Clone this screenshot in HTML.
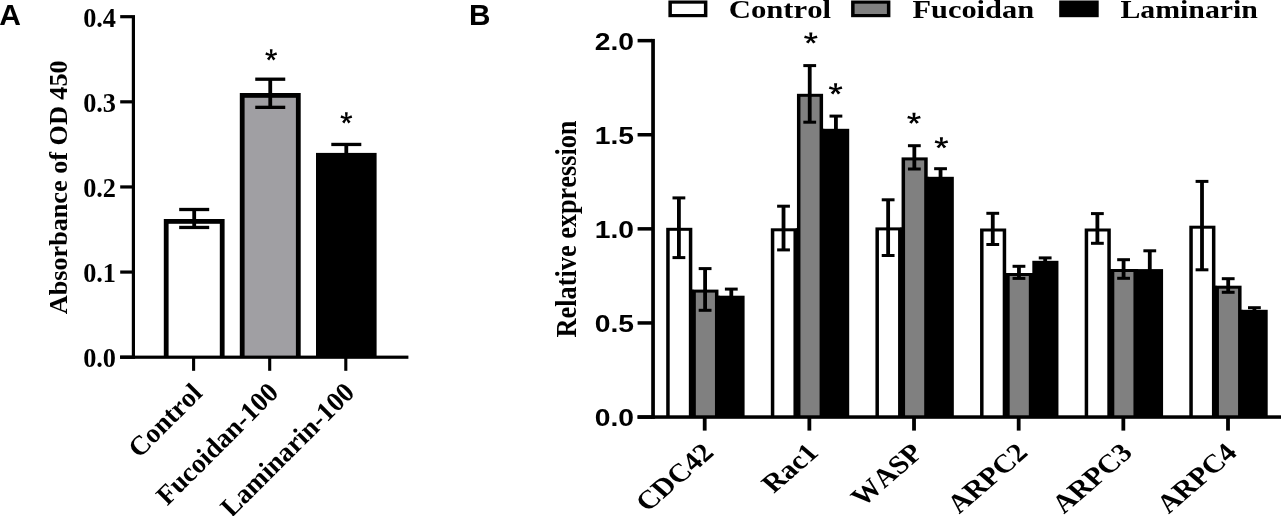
<!DOCTYPE html>
<html><head><meta charset="utf-8"><title>Figure</title>
<style>html,body{margin:0;padding:0;background:#fff;overflow:hidden}svg{display:block;will-change:transform}text{font-kerning:none}.se{font-family:"Liberation Serif",serif;font-weight:bold}.sa{font-family:"Liberation Sans",sans-serif;font-weight:bold}</style></head><body>
<svg width="1281" height="516" viewBox="0 0 1281 516">
<rect x="0" y="0" width="1281" height="516" fill="#ffffff"/>
<!-- Panel A -->
<rect x="163.80" y="219.00" width="60.80" height="138.20" fill="#000"/>
<rect x="168.60" y="223.80" width="51.20" height="133.40" fill="#fff"/>
<rect x="239.80" y="93.00" width="60.90" height="264.20" fill="#000"/>
<rect x="244.60" y="97.80" width="51.30" height="259.40" fill="#a09fa3"/>
<rect x="316.00" y="152.90" width="60.60" height="204.30" fill="#000"/>
<rect x="192.30" y="209.50" width="3.80" height="17.95" fill="#000"/>
<rect x="179.20" y="207.85" width="30.00" height="3.30" fill="#000"/>
<rect x="179.20" y="225.80" width="30.00" height="3.30" fill="#000"/>
<rect x="268.35" y="79.20" width="3.80" height="28.15" fill="#000"/>
<rect x="255.25" y="77.55" width="30.00" height="3.30" fill="#000"/>
<rect x="255.25" y="105.70" width="30.00" height="3.30" fill="#000"/>
<rect x="344.40" y="144.45" width="3.80" height="9.45" fill="#000"/>
<rect x="331.30" y="142.80" width="30.00" height="3.30" fill="#000"/>
<rect x="131.80" y="15.10" width="3.20" height="343.70" fill="#000"/>
<rect x="120.00" y="355.60" width="288.40" height="3.20" fill="#000"/>
<rect x="120.20" y="15.10" width="11.80" height="3.20" fill="#000"/>
<rect x="120.20" y="100.23" width="11.80" height="3.20" fill="#000"/>
<rect x="120.20" y="185.35" width="11.80" height="3.20" fill="#000"/>
<rect x="120.20" y="270.47" width="11.80" height="3.20" fill="#000"/>
<rect x="120.20" y="355.60" width="11.80" height="3.20" fill="#000"/>
<rect x="192.05" y="357.00" width="3.10" height="13.80" fill="#000"/>
<rect x="268.15" y="357.00" width="3.10" height="13.80" fill="#000"/>
<rect x="344.25" y="357.00" width="3.10" height="13.80" fill="#000"/>
<text class="se" x="116" y="26.60" font-size="26.3" text-anchor="end">0.4</text>
<text class="se" x="116" y="111.73" font-size="26.3" text-anchor="end">0.3</text>
<text class="se" x="116" y="196.85" font-size="26.3" text-anchor="end">0.2</text>
<text class="se" x="116" y="281.97" font-size="26.3" text-anchor="end">0.1</text>
<text class="se" x="116" y="367.10" font-size="26.3" text-anchor="end">0.0</text>
<text class="se" font-size="26.2" text-anchor="middle" transform="translate(67.2,187.3) rotate(-90)">Absorbance of OD 450</text>
<text class="se" font-size="27.3" text-anchor="end" transform="translate(203.50,394.60) rotate(-45)">Control</text>
<text class="se" font-size="27.3" text-anchor="end" transform="translate(279.90,393.80) rotate(-45)">Fucoidan-100</text>
<text class="se" font-size="27.3" text-anchor="end" transform="translate(356.00,393.80) rotate(-45)">Laminarin-100</text>
<path d="M272.00,55.60 L272.55,49.30 L269.85,49.30 L270.40,55.60Z M271.16,56.15 L277.09,54.81 L276.25,52.24 L270.67,54.63Z M271.73,54.63 L266.15,52.24 L265.31,54.81 L271.24,56.15Z M270.38,55.53 L273.25,60.42 L275.44,58.83 L271.67,54.59Z M270.73,54.59 L266.96,58.83 L269.15,60.42 L272.02,55.53Z" fill="#000"/>
<path d="M347.15,118.60 L347.70,112.30 L345.00,112.30 L345.55,118.60Z M346.31,119.15 L352.24,117.81 L351.40,115.24 L345.82,117.63Z M346.88,117.63 L341.30,115.24 L340.46,117.81 L346.39,119.15Z M345.53,118.53 L348.40,123.42 L350.59,121.83 L346.82,117.59Z M345.88,117.59 L342.11,121.83 L344.30,123.42 L347.17,118.53Z" fill="#000"/>
<text class="sa" font-size="30" x="-0.7" y="24.9">A</text>
<!-- Panel B -->
<rect x="666.20" y="227.80" width="26.13" height="189.25" fill="#000"/>
<rect x="669.70" y="230.80" width="19.13" height="186.25" fill="#fff"/>
<rect x="692.33" y="289.60" width="26.13" height="127.45" fill="#000"/>
<rect x="695.83" y="292.60" width="19.13" height="124.45" fill="#808080"/>
<rect x="691.13" y="289.60" width="2.40" height="127.45" fill="#000"/>
<rect x="718.46" y="295.70" width="26.13" height="121.35" fill="#000"/>
<rect x="717.26" y="295.70" width="2.40" height="121.35" fill="#000"/>
<rect x="677.00" y="197.90" width="3.80" height="59.70" fill="#000"/>
<rect x="672.50" y="196.40" width="12.80" height="3.00" fill="#000"/>
<rect x="672.50" y="256.10" width="12.80" height="3.00" fill="#000"/>
<rect x="703.20" y="268.60" width="3.80" height="41.70" fill="#000"/>
<rect x="698.70" y="267.10" width="12.80" height="3.00" fill="#000"/>
<rect x="698.70" y="308.80" width="12.80" height="3.00" fill="#000"/>
<rect x="729.40" y="289.10" width="3.80" height="7.60" fill="#000"/>
<rect x="724.90" y="287.60" width="12.80" height="3.00" fill="#000"/>
<rect x="770.82" y="228.30" width="26.13" height="188.75" fill="#000"/>
<rect x="774.32" y="231.30" width="19.13" height="185.75" fill="#fff"/>
<rect x="796.95" y="93.80" width="26.13" height="323.25" fill="#000"/>
<rect x="800.45" y="96.80" width="19.13" height="320.25" fill="#808080"/>
<rect x="795.75" y="228.30" width="2.40" height="188.75" fill="#000"/>
<rect x="823.08" y="128.80" width="26.13" height="288.25" fill="#000"/>
<rect x="821.88" y="128.80" width="2.40" height="288.25" fill="#000"/>
<rect x="781.62" y="206.20" width="3.80" height="43.70" fill="#000"/>
<rect x="777.12" y="204.70" width="12.80" height="3.00" fill="#000"/>
<rect x="777.12" y="248.40" width="12.80" height="3.00" fill="#000"/>
<rect x="807.82" y="65.60" width="3.80" height="56.60" fill="#000"/>
<rect x="803.32" y="64.10" width="12.80" height="3.00" fill="#000"/>
<rect x="803.32" y="120.70" width="12.80" height="3.00" fill="#000"/>
<rect x="834.02" y="116.10" width="3.80" height="13.70" fill="#000"/>
<rect x="829.52" y="114.60" width="12.80" height="3.00" fill="#000"/>
<rect x="875.44" y="227.40" width="26.13" height="189.65" fill="#000"/>
<rect x="878.94" y="230.40" width="19.13" height="186.65" fill="#fff"/>
<rect x="901.57" y="157.40" width="26.13" height="259.65" fill="#000"/>
<rect x="905.07" y="160.40" width="19.13" height="256.65" fill="#808080"/>
<rect x="900.37" y="227.40" width="2.40" height="189.65" fill="#000"/>
<rect x="927.70" y="176.80" width="26.13" height="240.25" fill="#000"/>
<rect x="926.50" y="176.80" width="2.40" height="240.25" fill="#000"/>
<rect x="886.24" y="199.80" width="3.80" height="55.70" fill="#000"/>
<rect x="881.74" y="198.30" width="12.80" height="3.00" fill="#000"/>
<rect x="881.74" y="254.00" width="12.80" height="3.00" fill="#000"/>
<rect x="912.44" y="145.70" width="3.80" height="23.30" fill="#000"/>
<rect x="907.94" y="144.20" width="12.80" height="3.00" fill="#000"/>
<rect x="907.94" y="167.50" width="12.80" height="3.00" fill="#000"/>
<rect x="938.64" y="168.70" width="3.80" height="9.10" fill="#000"/>
<rect x="934.14" y="167.20" width="12.80" height="3.00" fill="#000"/>
<rect x="980.06" y="228.50" width="26.13" height="188.55" fill="#000"/>
<rect x="983.56" y="231.50" width="19.13" height="185.55" fill="#fff"/>
<rect x="1006.19" y="273.00" width="26.13" height="144.05" fill="#000"/>
<rect x="1009.69" y="276.00" width="19.13" height="141.05" fill="#808080"/>
<rect x="1004.99" y="273.00" width="2.40" height="144.05" fill="#000"/>
<rect x="1032.32" y="260.80" width="26.13" height="156.25" fill="#000"/>
<rect x="1031.12" y="273.00" width="2.40" height="144.05" fill="#000"/>
<rect x="990.86" y="213.30" width="3.80" height="31.20" fill="#000"/>
<rect x="986.36" y="211.80" width="12.80" height="3.00" fill="#000"/>
<rect x="986.36" y="243.00" width="12.80" height="3.00" fill="#000"/>
<rect x="1017.06" y="266.30" width="3.80" height="12.10" fill="#000"/>
<rect x="1012.56" y="264.80" width="12.80" height="3.00" fill="#000"/>
<rect x="1012.56" y="276.90" width="12.80" height="3.00" fill="#000"/>
<rect x="1043.26" y="257.90" width="3.80" height="3.90" fill="#000"/>
<rect x="1038.76" y="256.40" width="12.80" height="3.00" fill="#000"/>
<rect x="1084.68" y="228.50" width="26.13" height="188.55" fill="#000"/>
<rect x="1088.18" y="231.50" width="19.13" height="185.55" fill="#fff"/>
<rect x="1110.81" y="269.00" width="26.13" height="148.05" fill="#000"/>
<rect x="1114.31" y="272.00" width="19.13" height="145.05" fill="#808080"/>
<rect x="1109.61" y="269.00" width="2.40" height="148.05" fill="#000"/>
<rect x="1136.94" y="269.10" width="26.13" height="147.95" fill="#000"/>
<rect x="1135.74" y="269.10" width="2.40" height="147.95" fill="#000"/>
<rect x="1095.48" y="213.60" width="3.80" height="29.70" fill="#000"/>
<rect x="1090.98" y="212.10" width="12.80" height="3.00" fill="#000"/>
<rect x="1090.98" y="241.80" width="12.80" height="3.00" fill="#000"/>
<rect x="1121.68" y="259.70" width="3.80" height="18.60" fill="#000"/>
<rect x="1117.18" y="258.20" width="12.80" height="3.00" fill="#000"/>
<rect x="1117.18" y="276.80" width="12.80" height="3.00" fill="#000"/>
<rect x="1147.88" y="250.80" width="3.80" height="19.30" fill="#000"/>
<rect x="1143.38" y="249.30" width="12.80" height="3.00" fill="#000"/>
<rect x="1189.30" y="225.70" width="26.13" height="191.35" fill="#000"/>
<rect x="1192.80" y="228.70" width="19.13" height="188.35" fill="#fff"/>
<rect x="1215.43" y="285.70" width="26.13" height="131.35" fill="#000"/>
<rect x="1218.93" y="288.70" width="19.13" height="128.35" fill="#808080"/>
<rect x="1214.23" y="285.70" width="2.40" height="131.35" fill="#000"/>
<rect x="1241.56" y="309.80" width="26.13" height="107.25" fill="#000"/>
<rect x="1240.36" y="309.80" width="2.40" height="107.25" fill="#000"/>
<rect x="1200.10" y="181.40" width="3.80" height="88.40" fill="#000"/>
<rect x="1195.60" y="179.90" width="12.80" height="3.00" fill="#000"/>
<rect x="1195.60" y="268.30" width="12.80" height="3.00" fill="#000"/>
<rect x="1226.30" y="278.70" width="3.80" height="13.60" fill="#000"/>
<rect x="1221.80" y="277.20" width="12.80" height="3.00" fill="#000"/>
<rect x="1221.80" y="290.80" width="12.80" height="3.00" fill="#000"/>
<rect x="1252.50" y="307.70" width="3.80" height="3.10" fill="#000"/>
<rect x="1248.00" y="306.20" width="12.80" height="3.00" fill="#000"/>
<rect x="651.20" y="38.90" width="3.70" height="379.90" fill="#000"/>
<rect x="637.60" y="415.30" width="643.40" height="3.50" fill="#000"/>
<rect x="637.60" y="38.90" width="14.40" height="3.50" fill="#000"/>
<rect x="637.60" y="133.00" width="14.40" height="3.50" fill="#000"/>
<rect x="637.60" y="227.10" width="14.40" height="3.50" fill="#000"/>
<rect x="637.60" y="321.20" width="14.40" height="3.50" fill="#000"/>
<rect x="637.60" y="415.30" width="14.40" height="3.50" fill="#000"/>
<rect x="702.80" y="417.00" width="3.80" height="13.60" fill="#000"/>
<rect x="807.46" y="417.00" width="3.80" height="13.60" fill="#000"/>
<rect x="912.12" y="417.00" width="3.80" height="13.60" fill="#000"/>
<rect x="1016.78" y="417.00" width="3.80" height="13.60" fill="#000"/>
<rect x="1121.44" y="417.00" width="3.80" height="13.60" fill="#000"/>
<rect x="1226.10" y="417.00" width="3.80" height="13.60" fill="#000"/>
<text class="sa" font-size="24.5" text-anchor="end" transform="translate(634,49.85) scale(1.155,1)">2.0</text>
<text class="sa" font-size="24.5" text-anchor="end" transform="translate(634,143.95) scale(1.155,1)">1.5</text>
<text class="sa" font-size="24.5" text-anchor="end" transform="translate(634,238.05) scale(1.155,1)">1.0</text>
<text class="sa" font-size="24.5" text-anchor="end" transform="translate(634,332.15) scale(1.155,1)">0.5</text>
<text class="sa" font-size="24.5" text-anchor="end" transform="translate(634,426.25) scale(1.155,1)">0.0</text>
<text class="se" font-size="26.3" text-anchor="middle" transform="translate(576.1,228.95) scale(1.155,1) rotate(-90)">Relative expression</text>
<text class="se" font-size="26.1" text-anchor="end" transform="translate(715.20,454.1) scale(1.155,1) rotate(-45)">CDC42</text>
<text class="se" font-size="26.1" text-anchor="end" transform="translate(819.86,454.1) scale(1.155,1) rotate(-45)">Rac1</text>
<text class="se" font-size="26.1" text-anchor="end" transform="translate(924.52,454.1) scale(1.155,1) rotate(-45)">WASP</text>
<text class="se" font-size="26.1" text-anchor="end" transform="translate(1029.18,454.1) scale(1.155,1) rotate(-45)">ARPC2</text>
<text class="se" font-size="26.1" text-anchor="end" transform="translate(1133.84,454.1) scale(1.155,1) rotate(-45)">ARPC3</text>
<text class="se" font-size="26.1" text-anchor="end" transform="translate(1238.50,454.1) scale(1.155,1) rotate(-45)">ARPC4</text>
<path d="M811.72,38.80 L812.36,32.50 L809.24,32.50 L809.88,38.80Z M810.76,39.35 L817.60,38.01 L816.63,35.44 L810.18,37.83Z M811.42,37.83 L804.97,35.44 L804.00,38.01 L810.84,39.35Z M809.85,38.73 L813.17,43.62 L815.69,42.03 L811.34,37.79Z M810.26,37.79 L805.91,42.03 L808.43,43.62 L811.75,38.73Z" fill="#000"/>
<path d="M836.52,89.60 L837.16,83.30 L834.04,83.30 L834.68,89.60Z M835.56,90.15 L842.40,88.81 L841.43,86.24 L834.98,88.63Z M836.22,88.63 L829.77,86.24 L828.80,88.81 L835.64,90.15Z M834.65,89.53 L837.97,94.42 L840.49,92.83 L836.14,88.59Z M835.06,88.59 L830.71,92.83 L833.23,94.42 L836.55,89.53Z" fill="#000"/>
<path d="M914.92,119.00 L915.56,112.70 L912.44,112.70 L913.08,119.00Z M913.96,119.55 L920.80,118.21 L919.83,115.64 L913.38,118.03Z M914.62,118.03 L908.17,115.64 L907.20,118.21 L914.04,119.55Z M913.05,118.93 L916.37,123.82 L918.89,122.23 L914.54,117.99Z M913.46,117.99 L909.11,122.23 L911.63,123.82 L914.95,118.93Z" fill="#000"/>
<path d="M942.32,143.50 L942.96,137.20 L939.84,137.20 L940.48,143.50Z M941.36,144.05 L948.20,142.71 L947.23,140.14 L940.78,142.53Z M942.02,142.53 L935.57,140.14 L934.60,142.71 L941.44,144.05Z M940.45,143.43 L943.77,148.32 L946.29,146.73 L941.94,142.49Z M940.86,142.49 L936.51,146.73 L939.03,148.32 L942.35,143.43Z" fill="#000"/>
<rect x="668.40" y="0.50" width="39.00" height="16.70" fill="#000"/>
<rect x="671.90" y="3.70" width="32.00" height="10.30" fill="#fff"/>
<rect x="851.10" y="0.50" width="39.30" height="16.70" fill="#000"/>
<rect x="854.60" y="3.70" width="32.30" height="10.30" fill="#808080"/>
<rect x="1059.20" y="0.50" width="39.50" height="16.70" fill="#000"/>
<text class="se" font-size="26.1" transform="translate(728.7,18.2) scale(1.1776,1)">Control</text>
<text class="se" font-size="26.1" transform="translate(912.5,18.2) scale(1.1642,1)">Fucoidan</text>
<text class="se" font-size="26.1" transform="translate(1120.4,18.2) scale(1.1435,1)">Laminarin</text>
<text class="sa" font-size="29.7" x="469" y="24.9">B</text>
</svg></body></html>
